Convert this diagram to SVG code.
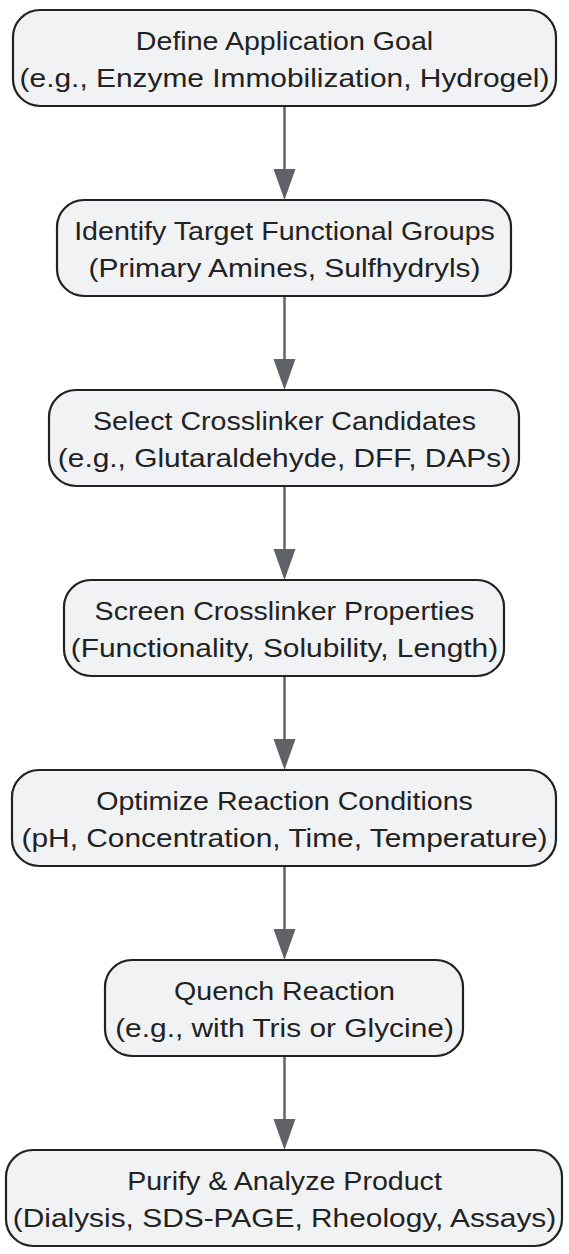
<svg xmlns="http://www.w3.org/2000/svg" width="569" height="1254" viewBox="0 0 569 1254">
<defs>
<style>
.box{fill:#f1f2f4;stroke:#222;stroke-width:2.2}
.t{font-family:"Liberation Sans",Arial,sans-serif;font-size:26px;fill:#222;text-anchor:middle}
.edge{stroke:#5f6368;stroke-width:2.5;fill:none}
.ah{fill:#5f6368}
</style>
</defs>
<rect width="569" height="1254" fill="#fff"/>
<g id="connectors">
<line class="edge" x1="284.5" y1="106" x2="284.5" y2="172"/>
<path class="ah" d="M273.5 169L295.5 169L284.5 200Z"/>
<line class="edge" x1="284.5" y1="296" x2="284.5" y2="362"/>
<path class="ah" d="M273.5 359L295.5 359L284.5 390Z"/>
<line class="edge" x1="284.5" y1="486" x2="284.5" y2="552"/>
<path class="ah" d="M273.5 549L295.5 549L284.5 580Z"/>
<line class="edge" x1="284.5" y1="676" x2="284.5" y2="742"/>
<path class="ah" d="M273.5 739L295.5 739L284.5 770Z"/>
<line class="edge" x1="284.5" y1="866" x2="284.5" y2="932"/>
<path class="ah" d="M273.5 929L295.5 929L284.5 960Z"/>
<line class="edge" x1="284.5" y1="1056" x2="284.5" y2="1122"/>
<path class="ah" d="M273.5 1119L295.5 1119L284.5 1150Z"/>
</g>
<g id="n1">
<rect class="box" x="13" y="10" width="543" height="96" rx="27"/>
<text class="t" transform="translate(284.5 50) scale(1.1 1)">Define Application Goal</text>
<text class="t" transform="translate(284.5 87) scale(1.15 1)">(e.g., Enzyme Immobilization, Hydrogel)</text>
</g>
<g id="n2">
<rect class="box" x="57" y="200" width="454" height="96" rx="27"/>
<text class="t" transform="translate(284.5 240) scale(1.1 1)">Identify Target Functional Groups</text>
<text class="t" transform="translate(284.5 277) scale(1.15 1)">(Primary Amines, Sulfhydryls)</text>
</g>
<g id="n3">
<rect class="box" x="49" y="390" width="470" height="96" rx="27"/>
<text class="t" transform="translate(284.5 430) scale(1.1 1)">Select Crosslinker Candidates</text>
<text class="t" transform="translate(284.5 467) scale(1.15 1)">(e.g., Glutaraldehyde, DFF, DAPs)</text>
</g>
<g id="n4">
<rect class="box" x="64" y="580" width="440" height="96" rx="27"/>
<text class="t" transform="translate(284.5 620) scale(1.1 1)">Screen Crosslinker Properties</text>
<text class="t" transform="translate(284.5 657) scale(1.15 1)">(Functionality, Solubility, Length)</text>
</g>
<g id="n5">
<rect class="box" x="12" y="770" width="544" height="96" rx="27"/>
<text class="t" transform="translate(284.5 810) scale(1.1 1)">Optimize Reaction Conditions</text>
<text class="t" transform="translate(284.5 847) scale(1.15 1)">(pH, Concentration, Time, Temperature)</text>
</g>
<g id="n6">
<rect class="box" x="105" y="960" width="358" height="96" rx="27"/>
<text class="t" transform="translate(284.5 1000) scale(1.1 1)">Quench Reaction</text>
<text class="t" transform="translate(284.5 1037) scale(1.15 1)">(e.g., with Tris or Glycine)</text>
</g>
<g id="n7">
<rect class="box" x="6" y="1150" width="556" height="96" rx="27"/>
<text class="t" transform="translate(284.5 1190) scale(1.1 1)">Purify &amp; Analyze Product</text>
<text class="t" transform="translate(284.5 1227) scale(1.15 1)">(Dialysis, SDS-PAGE, Rheology, Assays)</text>
</g>
</svg>
